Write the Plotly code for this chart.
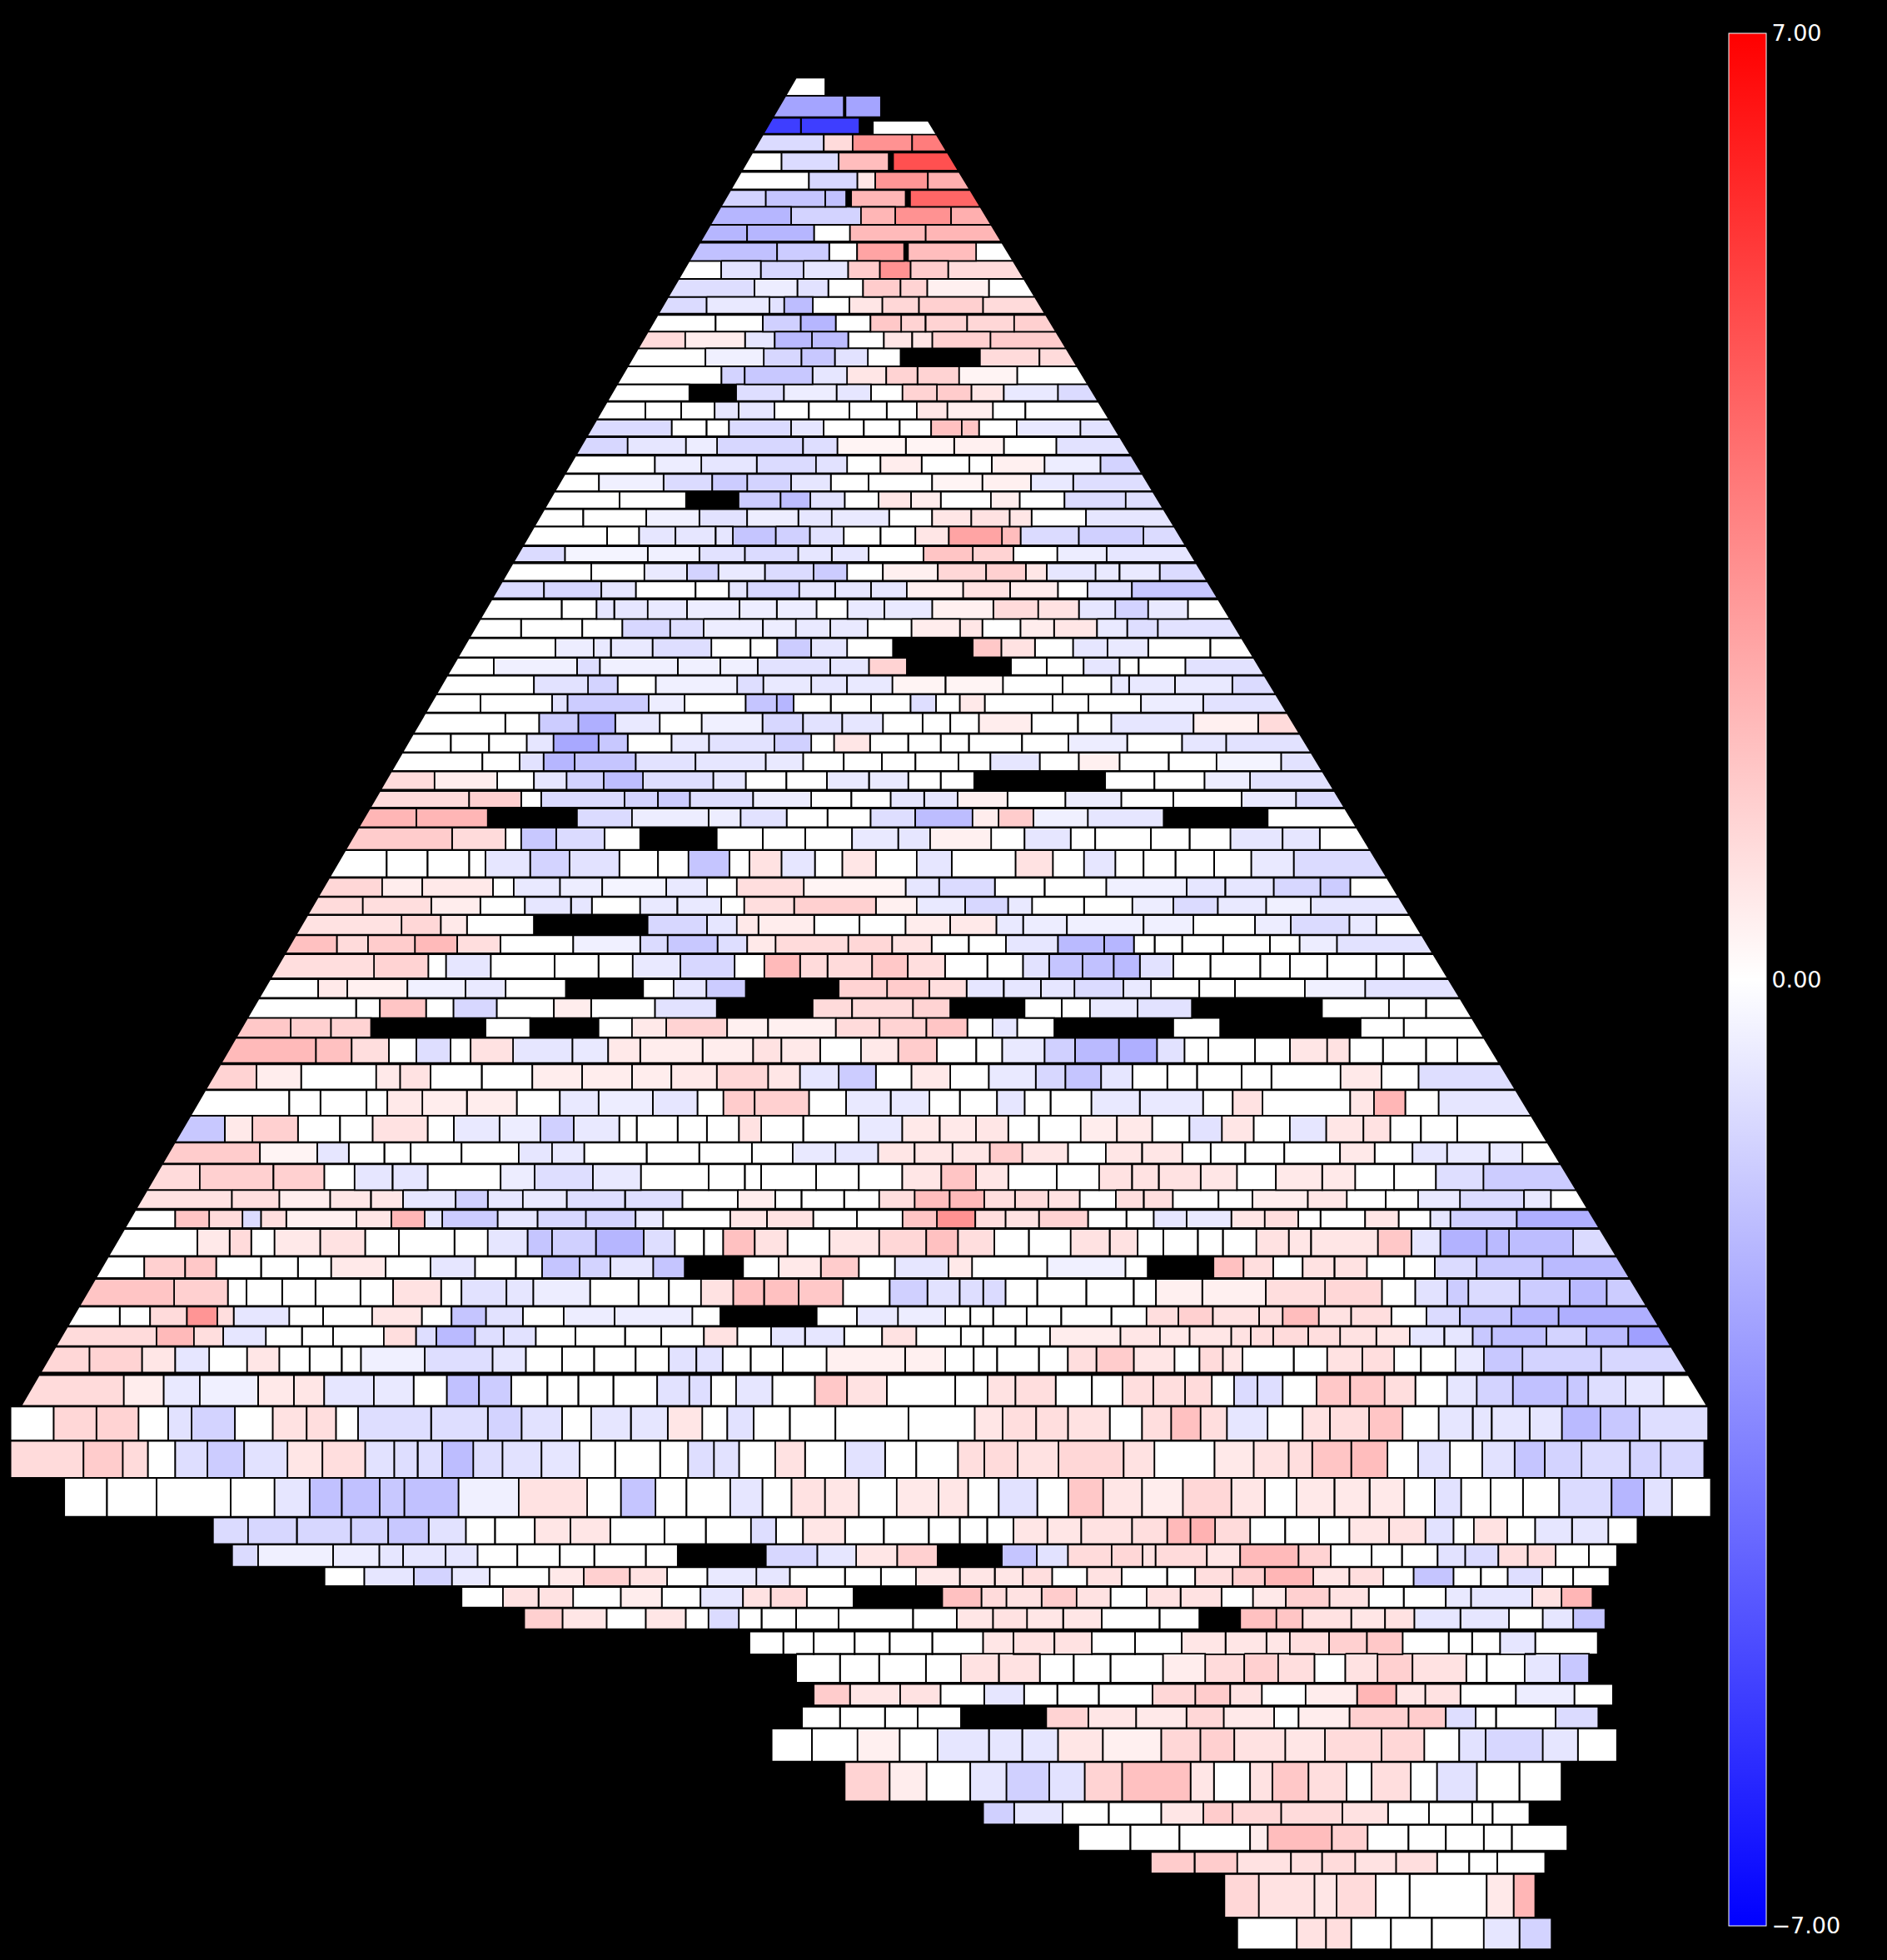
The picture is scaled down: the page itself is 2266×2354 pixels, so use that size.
import plotly.graph_objects as go

N = None  # no brick (black hole in the wall)

# Each row: (top, bottom, brick edges, brick values).
rows_top = [
 (70,135,[395,535],[0]),
 (135,212,[365,597,603,722],[-2.5,N,-2.5]),
 (215,272,[338,453,650],[-5.3,-5.3]),
 (225,292,[695,915],[0]),
 (275,335,[308,530,627,827,945],[-1,1,3,3.6]),
 (340,405,[280,388,580,748,763,980],[0,-1,1.8,N,4.8]),
 (410,472,[245,480,643,703,880,1015],[0,-1.1,.7,2.9,2.2]),
 (475,535,[212,335,535,605,622,805,820,1055],[-1.2,-1.6,-1.7,N,2,N,4.2]),
 (535,600,[178,420,655,770,958,1085],[-2,-1.2,2,3,2.2]),
 (600,660,[148,272,497,618,872,1122],[-2,-2,0,1.9,2]),
 (665,730,[113,373,548,642,800,813,1042,1155],[-1.7,-1.4,0,2.5,N,1.8,0]),
 (730,795,[80,185,318,462,612,718,822,948,1188],[0,-.8,-1.1,-.7,1.4,3,1.4,1]),
 (795,860,[45,297,441,545,662,788,878,1085,1225],[-.9,-.5,-.8,0,1.4,1.2,.4,0]),
 (860,920,[12,136,347,397,493,616,727,850,1065,1262],[-1,-.6,-.8,-1.8,0,.7,1.1,1.3,1]),
 (925,985,[-20,166,325,452,570,687,790,872,1012,1170,1295],[0,0,-1.3,-2,0,1.5,1.2,1.2,1.1,1.3]),
 (985,1045,[-30,64,265,365,490,612,732,827,895,1090,1335],[1,.5,-.7,-1.9,-1.8,0,.7,.7,1.3,1.4]),
 (1045,1110,[-70,132,328,455,567,678,788,1055,1255,1368],[0,-.4,-1.1,-1.5,-.8,0,N,1,1]),
 (1110,1175,[-90,186,264,492,608,740,845,985,1180,1402],[0,-1.2,-1.5,-.7,.7,1.2,1.2,.3,0]),
]

rows_upper = [
 (5,65,[215,362,460,560,670,742,808,880,952,1020,1133,1205],[0,N,-.9,-.5,-.7,0,1.2,1.4,.7,-.6,-1]),
 (68,130,[195,270,345,415,465,540,612,697,775,838,902,997,1065,1228],[0,0,0,-.7,-.7,0,0,0,0,.7,.5,0,0]),
 (132,192,[172,325,398,445,575,643,727,802,868,932,968,1047,1180,1252],[-1,0,0,-1,-.7,0,0,0,1.7,1.6,0,-.6,-.8]),
 (195,258,[152,233,355,420,600,672,815,916,1020,1130,1275],[-1.1,-.7,-.5,-1.1,-.9,.3,.3,.4,0,-.8]),
 (262,325,[130,290,387,503,627,692,762,848,948,995,1105,1222,1295],[0,-.5,-.7,-1,-.8,0,.5,0,0,.4,-.5,-1.2]),
 (328,390,[108,173,308,410,483,575,658,737,870,975,1077,1165,1317],[0,-.4,-1,-1.4,-1.2,-.7,0,0,.3,.4,-.6,-.9]),
 (392,452,[88,216,355,465,553,615,687,758,826,888,993,1053,1147,1275,1340],[0,0,N,-1.4,-1.8,-.8,0,.7,.5,0,.5,0,-1,-.9]),
 (455,517,[65,140,272,383,483,590,660,780,870,952,1032,1078,1192,1362],[0,0,-.4,-.8,-.5,-.7,-.6,0,.7,.8,.7,0,-.7]),
 (517,585,[45,190,257,333,417,453,543,614,685,762,835,905,1016,1055,1177,1312,1387],[0,0,-.7,-.7,-.7,-1.6,-1.3,-.8,0,0,.7,2.5,1.8,-1,-1.3,-1]),
 (588,645,[22,102,275,383,478,590,660,737,852,955,1040,1132,1235,1408],[-1,-.3,-.4,-.8,-1,-.7,-.7,0,1.6,1.2,0,-.5,-.7]),
 (650,712,[0,157,268,357,423,520,622,692,767,882,983,1066,1110,1212,1262,1346,1430],[0,0,-.6,-1.2,-.6,-1,-1.4,0,.4,1.1,1.3,.7,-.7,-.6,-.6,-1]),
 (715,775,[-20,58,178,250,375,445,483,592,667,742,817,935,1033,1133,1195,1288,1453],[-1,-1.1,-.7,0,0,-.7,-1.1,-.7,-.7,-.7,.4,.8,.5,0,-.8,-1.5]),
 (780,850,[-40,95,168,205,275,357,467,545,628,693,770,870,998,1092,1177,1253,1322,1405,1480],[0,0,-.7,-.7,-.6,-.5,-.5,-.5,0,-.6,-.6,.4,1,.8,-.7,-1.2,-.6,0]),
 (850,917,[-60,10,138,222,322,392,516,585,657,735,827,928,975,1055,1125,1215,1278,1342,1505],[0,0,0,-1.1,-.9,-.5,-.5,-.6,-.6,0,.5,.7,0,.5,.7,-.6,-.9,-.8]),
 (920,988,[-130,82,162,198,285,408,490,546,617,692,788,955,1015,1085,1165,1237,1322,1452,1530],[0,-.5,-.6,-.6,-.9,0,0,-1.4,-.7,0,N,1.5,.8,0,-.7,-.6,0,0]),
 (990,1052,[-118,-47,127,175,338,427,505,657,738,817,1035,1110,1187,1262,1302,1400,1555],[0,-.4,-.9,-.4,-.4,-.4,-.8,-.7,1.2,N,0,0,-.7,0,0,-.8]),
 (1055,1120,[-140,37,150,212,292,462,517,617,692,787,898,1018,1143,1245,1282,1378,1498,1590],[0,-.8,-1.2,0,-.4,-.9,-.6,-.7,-.6,.3,.3,0,0,-.6,-.6,-.6,-1]),
 (1122,1187,[-170,-75,75,107,277,352,480,545,580,658,742,825,878,928,980,1122,1197,1307,1437,1620],[0,0,-.8,-1.4,-.5,0,-1.6,-2,0,0,0,-.9,0,.6,0,0,0,-.5,-.8]),
 (1190,1262,[-200,-23,48,130,207,300,388,515,600,682,767,850,908,968,1078,1175,1245,1417,1552,1660],[0,0,-1.4,-2.2,-.6,0,-.4,-1.1,-.8,-.7,0,0,0,.5,0,0,-.7,.4,1]),
 (1265,1330,[-230,-137,-57,22,78,172,233,325,403,540,617,665,740,820,888,947,1058,1155,1278,1393,1485,1700],[0,0,0,-.7,-2.4,-1.5,0,-.6,-.8,-1.3,0,.7,0,0,0,0,0,-.5,0,-.7,-.8]),
 (1332,1398,[-260,-71,7,57,122,250,375,522,600,685,765,835,925,992,1095,1177,1262,1365,1465,1600,1720],[0,0,-.8,-2,-1.6,-.8,-.7,-.6,0,0,0,0,0,-.7,0,.4,0,0,-.3,-.8]),
 (1400,1465,[-290,-171,-40,37,105,183,265,412,480,565,650,738,820,888,958,1232,1335,1440,1535,1750],[1,.5,0,-.7,-1.2,-1.8,-.9,-.7,0,0,-.6,-.6,0,0,N,0,0,-.5,-.8]),
]

rows_middle = [
 (0,60,[68,183,253,280,392,437,480,565,643,697,750,795,840,907,985,1060,1130,1222,1295,1400],[1,1.3,0,-1,-1.2,-1.4,-.9,-.5,0,0,-.7,-.7,.4,0,-.5,0,0,-.6,-1]),
 (63,130,[50,112,208,328,402,505,548,610,665,723,783,860,895,942,1015,1117,1257,1370],[2,2,N,-1,-.5,-.5,-.8,0,0,-.9,-1.8,.5,1.4,-.4,-.7,N,0]),
 (132,212,[35,160,232,253,300,365,413,516,578,635,698,760,803,885,930,992,1025,1100,1152,1207,1277,1327,1387],[1.4,1,0,-1.5,-1,0,N,0,0,0,-.6,-.7,.4,0,-.7,0,0,0,0,-.7,-.7,0]),
 (213,310,[10,72,127,183,205,265,318,385,437,478,533,560,603,648,685,730,785,832,918,968,1010,1052,1090,1133,1185,1235,1292,1410],[0,0,0,0,-.7,-1.2,-.8,0,0,-1.6,0,.8,-.7,0,.7,0,-.7,0,.8,0,-.7,0,0,0,0,-.6,-1]),
 (313,380,[-3,66,120,215,243,305,362,448,503,543,633,770,815,890,957,1040,1148,1200,1265,1328,1368,1425],[1.1,.5,.6,0,-.6,-.5,-.3,-.6,0,.9,.3,-.7,-1,0,0,-.4,-.7,-.7,-1.1,-1.4,0]),
 (382,445,[-19,40,132,198,258,320,348,413,463,522,553,620,730,785,850,908,940,1010,1075,1130,1190,1255,1315,1445],[1,.9,.5,0,-.7,-.7,0,-.6,-.6,0,.9,1.3,.4,-.6,-1.1,-.6,0,0,-.5,-1,-.6,-.4,-.7]),
 (447,518,[-34,92,145,180,270,423,503,543,572,647,708,770,830,892,928,987,1090,1157,1240,1288,1367,1403,1460],[.8,1.1,.6,0,N,-1.1,-.7,.6,.5,0,0,.5,.6,-.6,-.5,-.4,-.4,0,-.5,-1,-.6,0]),
 (520,585,[-48,5,47,110,167,225,323,413,450,517,557,595,693,752,805,855,905,975,1037,1077,1105,1142,1197,1260,1300,1350,1475],[1.7,1,1.4,1.9,.9,0,-.4,-1,-1.5,-.9,.6,1,1.1,.8,0,0,-.7,-1.9,-2,0,0,0,0,0,-.5,-.8]),
 (588,675,[-70,55,128,152,212,298,357,403,467,540,580,628,665,725,773,823,880,928,963,1008,1050,1085,1130,1180,1247,1287,1337,1403,1440,1495],[.9,1.2,0,-.7,0,0,0,-.6,-1.1,0,1.9,1,1,1.5,.9,0,0,-.8,-1.6,-1.7,-1.9,-.8,0,0,0,0,0,0,0]),
 (678,745,[-84,-20,19,100,178,232,313,417,458,502,555,680,745,802,852,902,952,997,1063,1100,1165,1213,1307,1388,1510],[0,.6,.4,-.4,-.6,0,N,0,-.7,-1.4,N,1.2,1.4,.9,-.7,-.7,-.7,-1,-.6,0,0,0,-.4,-.8]),
 (748,818,[-98,31,63,125,162,220,297,347,433,516,645,698,780,830,930,980,1018,1082,1155,1330,1420,1470,1530],[0,0,1.6,0,-1.1,0,.5,0,-.8,N,1,1,1.2,N,0,0,-.6,-.8,N,0,0,0]),
 (818,888,[-115,-57,-3,51,205,265,357,402,448,530,585,676,735,798,853,887,920,970,1130,1193,1382,1440,1550],[1.5,1.3,1.2,N,0,N,0,.6,1.2,.4,.4,1,1.2,1.6,0,-.7,0,N,0,N,0,0]),
 (890,980,[-137,-23,25,75,112,158,185,242,322,370,413,497,565,603,655,710,760,812,865,900,957,998,1057,1108,1145,1177,1240,1287,1337,1367,1412,1470,1512,1565],[1.9,1.7,.9,0,-.9,0,.8,-.7,-.6,.6,.5,.5,.8,.6,0,.6,1.4,0,0,-.6,-1.3,-1.9,-2.2,-.8,0,0,0,.7,.8,0,0,0,0]),
 (985,1075,[-157,-103,-43,58,90,131,200,268,335,402,455,516,585,628,680,730,778,830,882,945,985,1033,1075,1122,1162,1222,1262,1355,1410,1460,1600],[1.2,.5,0,.6,.8,0,0,.5,.5,.5,.6,1.1,.7,-.7,-1.4,0,.6,0,-.6,-1.1,-1.6,-.7,0,0,0,0,0,.6,0,-.9]),
 (1078,1170,[-178,-59,-17,45,73,120,180,247,305,357,430,490,525,567,640,690,750,802,843,893,930,965,1020,1085,1170,1210,1250,1368,1400,1442,1487,1600],[0,0,0,0,.6,.5,.5,0,-.6,-.5,-.7,0,1.4,1.3,0,-.6,-.6,0,0,-.7,0,0,-.6,-.6,0,.8,0,.7,2,0,-.7]),
]

rows_lower_left = [
 (0,95,[315,385,432,510,582,638,732,777,855,925,982,1060,1090,1160,1210,1265,1303,1375,1470,1568],[-1.5,.6,1.3,0,0,.8,0,-.6,-.5,-1.3,-.6,0,0,0,0,.8,0,0,-.6]),
 (97,172,[295,445,543,597,658,703,790,888,945,1000,1107,1197,1287,1357,1430,1503,1568],[1.4,.3,-.7,0,0,0,0,-.7,-.6,0,0,0,0,-.6,-.7,.5]),
 (175,268,[265,342,468,555,607,672,732,857,915,1015,1097,1213,1275,1303,1397,1470,1568],[1,1.3,1.3,0,-.7,-.7,0,-.5,-.9,-.6,0,0,0,0,0,0]),
 (268,335,[245,397,478,565,635,690,780,835,895,970,1070,1168,1263,1327,1372,1445,1505,1568],[.8,.9,.5,.7,.7,-.7,-1.3,-.7,-.6,-.9,-.9,0,.5,0,0,0,.7]),
 (340,405,[225,300,358,415,447,490,610,670,727,757,852,920,1003,1088,1135,1250,1313,1392,1467,1545,1568],[0,1.6,1,-1,.9,.4,.7,2,-.7,-1.4,-.7,-1.1,-1.2,-.6,0,.7,.8,0,0,1.5]),
 (408,505,[197,338,393,430,470,548,625,683,778,835,903,945,1020,1102,1155,1205,1238,1292,1348,1420,1505,1568],[0,.6,1,0,.6,.8,0,0,0,-.7,-1.6,-1.3,-2,-.9,0,0,1.7,.8,0,.7,1.2]),
 (508,585,[178,247,317,370,447,510,567,660,737,813,883,928,992,1045,1118,1172,1272,1333,1405,1470,1532,1568],[0,1.3,1.5,0,0,0,.6,0,-.7,0,0,-1.6,-1.2,-.7,-1.6,N,0,.6,1.4,0,0]),
 (588,685,[150,298,390,422,483,540,617,673,755,790,867,913,1010,1093,1145,1200,1255,1308,1367,1443,1523,1568],[1.6,1.3,0,0,0,0,0,.8,0,-.8,-.7,-.5,0,0,0,.8,1.7,1.7,1.5,0,-1.4]),
 (688,757,[127,205,257,320,372,400,495,553,637,722,773,832,895,965,1052,1185,1233,1398,1467,1537,1568],[0,0,1,2.9,.9,-.7,0,0,.7,0,-1.6,-.8,0,-.5,-.5,0,N,0,-.6,-.7]),
 (760,830,[105,268,332,382,455,517,570,657,712,747,813,862,917,985,1070,1132,1205,1262,1320,1378,1445,1510,1568],[1,1.9,.9,-.7,0,0,0,.9,-.9,-1.9,-.9,-.8,0,0,0,0,.8,0,-.7,-.7,0,.7]),
 (833,925,[78,153,243,300,358,423,478,530,585,618,727,843,900,962,1017,1088,1145,1192,1237,1285,1340,1415,1568],[1.1,1.2,.7,-.7,0,.7,0,0,0,-.4,-.9,-.7,0,0,0,0,-.8,-.8,0,0,0,.3]),
 (935,1045,[45,212,280,342,442,503,555,640,708,765,820,875,937,990,1050,1125,1180,1217,1260,1322,1395,1450,1518,1568],[1,.5,-.6,-.4,.6,.7,-.7,-.6,0,-1.7,-1.4,0,0,0,0,-.8,-.9,0,-.7,0,1.5,.8,0]),
 (1048,1170,[18,92,165,237,288,328,402,467,525,575,613,738,835,893,962,1012,1080,1143,1202,1245,1290,1352,1430,1555],[0,1.1,1.2,0,-.8,-1.2,0,.8,.9,0,-.9,-.9,-1.2,-.8,0,-.7,-.7,.7,0,-.8,0,0,0]),
 (1172,1305,[18,143,210,253,300,355,418,492,552,625,675,715,757,810,860,927,992,1053,1130,1178,1222,1265,1327,1378,1447,1515,1568],[1,1.4,1,0,-.9,-1.4,-.8,.7,.9,-.8,-.9,-.9,-1.8,-.9,-.8,-.7,0,0,0,-.9,-.8,0,.8,0,-.8,0]),
 (1305,1445,[110,183,268,395,470,530,585,650,692,785,888,1005,1063,1122,1175,1250,1305,1355,1412,1470,1535,1568],[0,0,0,0,-.7,-1.7,-1.7,-1.5,-1.7,-.4,.8,0,-1.6,0,0,-.7,0,.8,.7,0,0]),
]

rows_lower_right = [
 (0,105,[0,65,132,197,255,310,385,450,513,580,638,695,760,825,892,940,995,1060,1220],[-.6,.6,.6,.7,0,0,.5,.6,0,-.8,.7,0,-.7,.7,.8,0,0,0]),
 (105,180,[0,20,87,155,222,280,362,430,495,567,618,680,750,850,912,980,1042,1118,1177,1245],[-.6,.7,.7,.7,1.4,.7,0,.7,.7,0,0,0,0,.6,0,-.7,-.6,-.6,0]),
 (180,270,[0,65,135,197,255,342,418,477,525,600,665,735,818,877,947,1022,1107,1275],[0,.7,1.6,.7,0,0,.8,.8,.8,.7,0,.6,.6,0,0,-.9,-1.4]),
 (270,340,[0,22,87,150,212,267,327,383,448,498,550,632,693,792,862,932,990,1065,1180,1228,1295],[0,.9,1.8,1.9,.9,1,.8,0,.9,.9,0,0,.5,.7,0,0,-.6,-1,-.6,0]),
 (345,415,[0,65,127,196,250,310,398,467,516,575,655,715,775,815,895,955,1012,1048,1167,1300],[0,1.6,3,.9,.8,1.2,0,0,-.7,-.6,.7,.9,0,0,.7,0,-.7,-1.3,-2.2]),
 (415,520,[0,25,108,165,230,292,367,437,487,533,595,640,700,758,798,918,978,1030,1113,1153,1268,1345],[.3,1.1,1.7,.9,0,0,.8,.8,0,0,0,0,.8,.7,.7,1.5,-.7,-2.1,-1.9,-1.8,-1]),
 (520,590,[0,52,148,190,325,465,505,623,677,730,783,840,898,965,1020,1095,1213,1368],[0,-.7,.6,0,-.4,0,N,1.7,.9,0,.8,.8,0,0,-1,-1.5,-1.9]),
 (590,695,[0,42,110,168,210,250,307,395,480,520,603,717,823,925,985,1042,1080,1172,1262,1328,1395],[0,-1.3,-.8,-.9,-1,0,0,0,0,.4,.4,.9,1.1,0,-.8,-1.4,-1,-1.4,-1.9,-1.4]),
 (695,765,[0,58,142,187,228,288,350,440,503,560,622,705,747,812,870,942,1005,1065,1157,1242,1420],[-.5,-.5,0,0,0,0,0,0,.9,1.3,.8,.9,1.8,.8,.9,0,-1,-1.5,-2,-2.2]),
 (765,825,[0,28,90,170,210,268,330,456,527,580,655,690,730,793,850,915,975,1037,1088,1122,1220,1292,1367,1445],[0,.8,0,0,0,0,.5,.7,.6,.7,.8,.9,1,.9,.8,.7,-.7,-.7,-1.5,-1.7,-1.2,-1.9,-2.6]),
 (830,935,[0,70,142,193,235,310,362,413,480,553,598,640,675,767,827,890,947,995,1057,1108,1177,1318,1475],[.4,.4,0,0,0,0,.9,1.4,.7,0,1,.7,0,0,.8,.9,0,0,-.6,-1.5,-1.2,-1.1]),
 (935,1050,[0,37,160,218,268,340,405,460,515,572,620,660,702,747,808,868,930,985,1042,1095,1160,1258,1295,1362,1430,1510],[.8,0,0,.8,.9,0,0,.9,.9,1,0,-1,-.9,0,1.5,1.5,.9,0,-.7,-1.2,-1.7,-1.5,-.9,-.7,0]),
 (1050,1165,[0,18,75,195,245,305,362,437,495,547,600,647,720,783,832,902,962,1027,1088,1122,1190,1248,1317,1387,1510],[0,0,0,.7,.9,.9,.8,0,.9,1.7,.9,-.7,0,.8,.9,1.6,0,-.7,-.7,-.7,-.7,-1.9,-1.5,-.9]),
 (1165,1305,[0,32,90,165,212,272,345,462,517,625,695,758,800,870,935,990,1047,1105,1163,1217,1283,1370,1425,1503],[-.7,0,0,.9,1,.8,1.1,.8,0,.6,.8,.9,1.6,1.8,0,-.8,0,-.8,-1.6,-1.2,-1,-1.2,-1.1]),
 (1305,1445,[0,57,130,183,238,307,363,425,495,568,655,715,772,840,903,965,1020,1067,1120,1178,1243,1337,1395,1445,1515],[0,.6,.7,0,-.8,0,1.5,.7,.5,1.1,.7,0,.6,.6,.6,0,-.8,0,0,0,-1,-2,-.8,0]),
]

rows_foot_left = [
 (8,103,[307,373,465,567,637,713,783,838,913,980,1055,1157,1235,1320,1367,1418,1497,1568],[-1,-1.1,-1.1,-1.2,-1.5,-.8,0,0,.7,.7,0,0,0,-.9,0,.7,0]),
 (105,185,[343,392,533,620,665,745,805,880,960,1025,1122,1182,1348,1445,1518],[-1,-.4,-.5,-.7,-.7,-.7,0,0,0,0,0,N,-1.1,-.7]),
 (187,255,[517,592,685,757,828,940,1005,1092,1162,1238,1330,1393,1497],[0,-.7,-1.2,-.6,0,.6,1.3,.8,0,-.6,-.7,0]),
 (258,332,[775,853,920,985,1075,1152,1225,1305,1357,1425,1513],[0,.8,.8,0,.5,0,-.7,.8,1,0]),
 (335,410,[893,965,1048,1122,1197,1240,1297,1340,1405,1485],[1.3,.7,0,.7,0,-1,0,0,0]),
]

rows_foot_right = [
 (0,100,[165,230,307,360,407,452,510,568,655,715,755,797,857,917,975,1027,1095,1157,1205,1240,1297,1345,1408,1470,1520],[0,0,0,0,0,.7,.7,.8,.9,1.9,2.1,1,0,0,0,.7,.8,-.8,0,.8,0,-.7,-.7,0]),
 (100,190,[180,253,322,432,492,545,620,673,695,783,840,940,995,1065,1117,1178,1225,1282,1332,1380,1437,1485],[.7,1.3,N,-1.6,-.8,1,1.1,.8,1,.7,1.9,1.2,0,0,0,-.8,-1,.9,1,0,0]),
 (190,265,[165,225,285,360,420,468,518,578,637,715,763,827,882,965,1027,1085,1137,1205,1252,1298,1357,1410,1472],[0,0,.6,.7,.7,.9,0,.8,0,0,.9,1.3,2,.7,.9,0,-1.6,0,0,-.9,0,0]),
 (265,330,[178,330,397,440,500,560,618,680,738,808,862,918,993,1060,1120,1192,1235,1340,1390,1443],[N,1.7,1,.8,1.4,.8,0,.8,.8,0,.6,1.3,.8,0,0,-.6,-.7,.8,2]),
 (330,410,[152,280,355,417,475,537,603,702,770,840,902,947,1030,1088,1138,1217,1300,1358,1410,1465],[0,0,.7,.8,.7,.7,0,0,N,1.7,1.6,.8,.7,.8,-.7,-.7,0,-.7,-1.6]),
]

rows_tail = [
 (410,490,[0,58,110,180,240,313,400,452,522,586,660,740,815,885,925,992,1057,1118,1197,1237,1285,1345,1452],[0,0,0,0,0,0,.7,.8,.8,0,0,.7,.7,.7,.9,1.3,1.5,0,0,0,-.7,0]),
 (488,590,[80,155,222,302,362,427,497,555,618,708,780,847,905,967,1020,1075,1135,1227,1262,1327,1387,1437],[0,0,0,0,.8,.8,0,0,0,.5,1,1.3,.9,0,.8,1.3,.8,0,0,-.7,-1.5]),
 (595,670,[110,172,258,327,402,470,527,598,690,763,823,877,952,1040,1107,1157,1217,1312,1412,1478],[1.4,.7,.8,0,-.7,0,0,0,1.1,1.4,.8,0,.5,2,.7,.8,0,-.5,0]),
 (675,750,[90,155,232,288,362,508,580,662,748,812,898,940,1027,1128,1192,1243,1278,1380,1453],[0,0,0,0,N,1.2,.7,.6,1.1,.6,0,.5,1.3,1.4,-.9,0,0,-1]),
 (752,868,[38,107,185,257,322,410,467,528,605,705,772,830,917,985,1082,1155,1215,1260,1358,1418,1485],[0,0,.4,0,-.7,-.7,-.7,.7,.4,1.1,1.3,.8,.7,1,1.1,0,-.8,-1.1,-.7,0]),
 (870,1008,[163,240,303,378,440,513,574,638,755,795,857,895,957,1022,1065,1132,1177,1245,1318,1390],[1.2,.5,0,-.7,-1.3,-.8,1.2,1.7,.7,0,.8,1.5,.9,0,.9,0,-.8,0,0]),
 (1012,1090,[400,453,536,615,705,777,827,910,1015,1093,1163,1237,1272,1335],[-1.3,-.7,0,0,.7,1.4,1.1,1,.8,0,0,0,0]),
 (1092,1182,[563,652,736,857,887,997,1058,1128,1192,1257,1305,1400],[0,0,0,.5,1.8,1.3,0,0,0,0,0]),
 (1187,1262,[687,762,835,927,980,1037,1107,1177,1232,1280,1362],[1.4,1.4,.8,.9,1,.8,.9,0,0,0]),
 (1265,1418,[813,872,967,1005,1072,1130,1262,1308,1345],[1.1,.8,.7,1,0,0,.6,2]),
 (1420,1530,[835,937,987,1030,1098,1168,1257,1318,1373],[0,.8,.9,0,0,0,-.7,-1.2]),
]

colorbar_ticks = [-7, 0, 7]
colorbar_labels = ["\u22127.00", "0.00", "7.00"]


def place(rows, x0, sx, y0, sy):
    return [(y0 + t / sy, y0 + b / sy, [x0 + e / sx for e in ed], list(v)) for t, b, ed, v in rows]


def join(left_rows, right_rows, cut):
    out = []
    for (t, b, el, vl), (_, _, er, vr) in zip(left_rows, right_rows):
        el, vl = list(el), list(vl)
        if el[-1] >= cut:
            el, vl = el[:-1], vl[:-1]
        last = el[-1]
        for i, v in enumerate(vr):
            if er[i + 1] > last + 4:
                el.append(er[i + 1])
                vl.append(v)
        out.append((t, b, el, vl))
    return out


def left_side(y):
    return 910 - 0.5834 * (y - 172)


def right_side(y):
    return 1131 + 0.606 * (y - 172)


all_rows = []
all_rows += place(rows_top, 800, 2.8, 70, 3)
all_rows += place(rows_upper, 620, 1568 / 900, 460, 3)
all_rows += place(rows_middle, 400, 1.12, 950, 3)
all_rows += join(place(rows_lower_left, 0, 1568 / 1100, 1340, 3),
                 place(rows_lower_right, 1040, 1568 / 1050, 1340, 3), 1098)
all_rows += join(place(rows_foot_left, 60, 1.568, 1820, 3),
                 place(rows_foot_right, 900, 1568 / 1100, 1820, 1568 / 534), 1058)
all_rows += place(rows_tail, 900, 1568 / 1100, 1820, 1568 / 534)

groups = {}
for top, bot, edges, vals in all_rows:
    mid = (top + bot) / 2
    n = len(vals)
    snap_l = edges[0] - left_side(mid) < 25 and mid < 1690
    snap_r = right_side(mid) - edges[-1] < 25 and mid < 1690
    for i, v in enumerate(vals):
        if v is None:
            continue
        xtl = xbl = edges[i]
        xtr = xbr = edges[i + 1]
        if i == 0 and snap_l:
            xtl, xbl = left_side(top), left_side(bot)
        if i == n - 1 and snap_r:
            xtr, xbr = right_side(top), right_side(bot)
        gx, gy = groups.setdefault(v, ([], []))
        gx += [xtl, xtr, xbr, xbl, xtl, None]
        gy += [top, top, bot, bot, top, None]


def colour(v):
    k = int(round(255 * (1 - abs(v) / 7)))
    return f"rgb(255,{k},{k})" if v >= 0 else f"rgb({k},{k},255)"


fig = go.Figure()
for v, (gx, gy) in groups.items():
    fig.add_trace(go.Scatter(x=gx, y=gy, mode="lines", fill="toself", fillcolor=colour(v),
                             line=dict(color="black", width=1.8), hoverinfo="skip", showlegend=False))

fig.add_trace(go.Scatter(
    x=[-50, -50], y=[-50, -50], mode="markers", showlegend=False, hoverinfo="skip",
    marker=dict(color=[-7, 7], cmin=-7, cmax=7,
                colorscale=[[0, "rgb(0,0,255)"], [0.5, "rgb(255,255,255)"], [1, "rgb(255,0,0)"]],
                colorbar=dict(thickness=45, thicknessmode="pixels", len=2273, lenmode="pixels",
                              x=2076 / 2266, xanchor="left", xref="container",
                              y=1 - 40 / 2354, yanchor="top", yref="container", xpad=0, ypad=0,
                              tickmode="array", tickvals=colorbar_ticks, ticktext=colorbar_labels,
                              ticks="", tickfont=dict(family="DejaVu Sans", size=27, color="white"),
                              outlinecolor="white", outlinewidth=1, borderwidth=0)),
))

fig.update_layout(
    width=2266, height=2354, margin=dict(l=0, r=0, t=0, b=0, autoexpand=False),
    paper_bgcolor="black", plot_bgcolor="black", showlegend=False,
    xaxis=dict(range=[0, 2266], visible=False, fixedrange=True),
    yaxis=dict(range=[2354, 0], visible=False, fixedrange=True),
)
fig.write_html("out.html", config=dict(displayModeBar=False),
               post_script="document.body.style.margin='0';document.body.style.background='black';")
